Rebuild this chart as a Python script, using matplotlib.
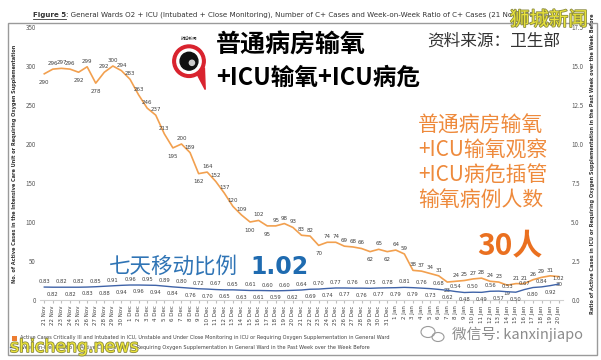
import pandas as pd
import matplotlib
matplotlib.use("Agg")
import matplotlib.pyplot as plt
import matplotlib.patheffects as pe
from matplotlib.patches import Circle, Polygon, Rectangle, Ellipse

plt.rcParams["font.family"] = ["Noto Sans CJK SC", "DejaVu Sans"]

# 21 Nov 2021 - 20 Jan 2022
dates = pd.date_range("2021-11-21", "2022-01-20", freq="D")
tick_labels = [f"{d.day} {d.strftime('%b')}" for d in dates]

cases = [290, 296, 297, 296, 292, 299, 278, 292, 300, 294,
         283, 263, 246, 237, 213, 195, 200, 189, 162, 164,
         152, 137, 120, 109, 100, 102, 95, 95, 98, 93,
         83, 82, 70, 74, 74, 69, 68, 66, 62, 65,
         62, 64, 59, 38, 37, 34, 31, 23, 24, 25,
         27, 28, 24, 23, 19, 21, 21, 26, 29, 31, 30]

ratio = [0.83, 0.82, 0.82, 0.82, 0.82, 0.83, 0.85, 0.88, 0.91, 0.94,
         0.96, 0.96, 0.95, 0.94, 0.89, 0.84, 0.80, 0.76, 0.72, 0.70,
         0.67, 0.65, 0.65, 0.63, 0.61, 0.61, 0.60, 0.59, 0.60, 0.62,
         0.64, 0.69, 0.70, 0.74, 0.77, 0.77, 0.76, 0.76, 0.75, 0.77,
         0.78, 0.79, 0.81, 0.79, 0.76, 0.73, 0.68, 0.62, 0.54, 0.48,
         0.50, 0.49, 0.56, 0.57, 0.53, 0.50, 0.67, 0.80, 0.84, 0.92, 1.02]

ORANGE = "#F2A04F"
BLUE = "#3F63A8"
GREY = "#595959"
W, H = 601, 360


def fx(px):
    return px / W


def fy(py):
    return 1 - py / H


fig = plt.figure(figsize=(6.01, 3.6), dpi=100)
fig.patch.set_facecolor("white")

# outer frame
fig.add_artist(Rectangle((fx(8), fy(355)), fx(589), (355 - 23) / H,
                         transform=fig.transFigure, fill=False,
                         edgecolor="#9a9a9a", linewidth=1.0))

ax = fig.add_axes([fx(40), fy(300), fx(523), 273 / H])
x = list(range(len(cases)))
ax.plot(x, cases, color=ORANGE, linewidth=1.2)
ax.set_xlim(-0.5, len(cases) - 0.5)
ax.set_ylim(0, 350)
ax.set_yticks(range(0, 351, 50))
ax.set_xticks(x)
ax.set_xticklabels(tick_labels, rotation=90, fontsize=4, color="#404040",
                   family="DejaVu Sans")
ax.tick_params(axis="y", labelsize=4.5, labelcolor=GREY, length=0, pad=3)
ax.tick_params(axis="x", length=2, color="#bfbfbf", pad=2)
for s in ["top", "right", "left"]:
    ax.spines[s].set_visible(False)
ax.spines["bottom"].set_color("#d0d0d0")
ax.set_ylabel("No. of Active Cases in the Intensive Care Unit or Requiring Oxygen Supplementation",
              fontsize=3.6, fontweight="bold", color="#333333", family="DejaVu Sans", labelpad=6)

for i, v in enumerate(cases):
    prev_v = cases[i - 1] if i > 0 else v + 1
    next_v = cases[i + 1] if i < len(cases) - 1 else v + 1
    below = v < prev_v and v <= next_v
    ax.annotate(str(v), (i, v), xytext=(0, -6 if below else 4), textcoords="offset points",
                ha="center", va="center", fontsize=4, color="#404040", family="DejaVu Sans")

ax2 = ax.twinx()
ax2.plot(x, ratio, color=BLUE, linewidth=1.0)
ax2.set_ylim(0, 17.5)
ax2.set_yticks([0, 2.5, 5, 7.5, 10, 12.5, 15, 17.5])
ax2.set_yticklabels([f"{t:.1f}" for t in [0, 2.5, 5, 7.5, 10, 12.5, 15, 17.5]])
ax2.tick_params(axis="y", labelsize=4.5, labelcolor=GREY, length=0, pad=6)
for s in ["top", "right", "left", "bottom"]:
    ax2.spines[s].set_visible(False)
ax2.set_ylabel("Ratio of Active Cases in ICU or Requiring Oxygen Supplementation in the Past Week over the Week Before",
               fontsize=3.6, fontweight="bold", color="#333333", family="DejaVu Sans", labelpad=5)

for i, v in enumerate(ratio):
    up = i % 2 == 0
    ax2.annotate(f"{v:.2f}", (i, v), xytext=(0, 4 if up else -5), textcoords="offset points",
                 ha="center", va="center", fontsize=3.8, color="#404040", family="DejaVu Sans")

# title: bold underlined "Figure 5" then the rest
t1 = fig.text(fx(33), fy(15), "Figure 5", fontsize=5.1, fontweight="bold", color="#333333",
              family="DejaVu Sans", va="center")
fig.canvas.draw()
bb = t1.get_window_extent()
fig.text(bb.x1 / W, fy(15),
         ": General Wards O2 + ICU (Intubated + Close Monitoring), Number of C+ Cases and "
         "Week-on-Week Ratio of C+ Cases (21 Nov \u2013 20 Jan)",
         fontsize=5.1, color="#333333", family="DejaVu Sans", va="center")
fig.add_artist(plt.Line2D([bb.x0 / W, bb.x1 / W], [fy(19), fy(19)], color="#333333", linewidth=0.6))

# legend
fig.add_artist(Rectangle((fx(12), fy(341)), fx(5), 5 / H, transform=fig.transFigure,
                         facecolor="#ED7D31", edgecolor="none"))
fig.text(fx(20), fy(338),
         "Active Cases Critically Ill and Intubated in ICU, Unstable and Under Close Monitoring in ICU or Requiring Oxygen Supplementation in General Ward",
         fontsize=3.6, color="#404040", family="DejaVu Sans", va="center")
fig.add_artist(plt.Line2D([fx(10), fx(18)], [fy(347), fy(347)], color=BLUE, linewidth=1.0))
fig.text(fx(20), fy(347),
         "Week-on-Week Ratio of Active Cases in ICU or Requiring Oxygen Supplementation in General Ward in the Past Week over the Week Before",
         fontsize=3.6, color="#404040", family="DejaVu Sans", va="center")

# Chinese annotations
fig.text(fx(216), fy(46), "普通病房输氧", fontsize=18, fontweight="bold", color="black", va="center")
fig.text(fx(216), fy(78), "+ICU输氧+ICU病危", fontsize=17, fontweight="bold", color="black", va="center")
fig.text(fx(427), fy(41), "资料来源：卫生部", fontsize=12, color="#333333", va="center")
orange_lines = ["普通病房输氧", "+ICU输氧观察", "+ICU病危插管", "输氧病例人数"]
for k, line in enumerate(orange_lines):
    fig.text(fx(418), fy(126 + 25 * k), line, fontsize=15, color="#EE8A3C", va="center")
fig.text(fx(477), fy(245), "30人", fontsize=21.5, fontweight="bold", color="#EA7020", va="center")
fig.text(fx(109), fy(267), "七天移动比例", fontsize=15.5, color="#2F74B5", va="center")
fig.text(fx(250), fy(267), "1.02", fontsize=17, fontweight="bold", color="#1F6BB0",
         va="center", family=["DejaVu Sans"])

# logo
lax = fig.add_axes([fx(163), fy(92), fx(52), 60 / H])
lax.set_xlim(-1.6, 1.6)
lax.set_ylim(-1.9, 1.8)
lax.set_aspect("equal")
lax.axis("off")
lax.add_patch(Polygon([[0.5, -0.8], [1.0, -1.75], [0.95, -0.4]], color="#D9232E"))
lax.add_patch(Circle((0, 0), 1.0, color="#D9232E"))
lax.add_patch(Circle((0, 0), 0.75, color="white"))
lax.add_patch(Circle((0, 0), 0.55, color="#111111"))
lax.add_patch(Circle((0.18, -0.1), 0.16, color="#cccccc"))
lax.text(0, 1.35, "狮城新闻", fontsize=3, ha="center", va="center", color="#333333")

# watermarks
glow = [pe.withStroke(linewidth=1.2, foreground="#8a8a40")]
fig.text(fx(10), fy(347), "shicheng.news", fontsize=12.5, color="#EDE53A",
         va="center", family=["DejaVu Sans"], path_effects=glow)
fig.text(fx(510), fy(20), "狮城新闻", fontsize=14, color="#E8E23A", va="center", path_effects=glow)
fig.text(fx(452), fy(334), "微信号: kanxinjiapo", fontsize=10.5, color="#8c8c8c", va="center")
fig.add_artist(Ellipse((fx(428), fy(332)), fx(14), 11 / H, transform=fig.transFigure,
                       fill=False, edgecolor="#9a9a9a", linewidth=0.8))
fig.add_artist(Ellipse((fx(438), fy(337)), fx(12), 9 / H, transform=fig.transFigure,
                       fill=False, edgecolor="#9a9a9a", linewidth=0.8))

fig.savefig("out.png", dpi=100)
